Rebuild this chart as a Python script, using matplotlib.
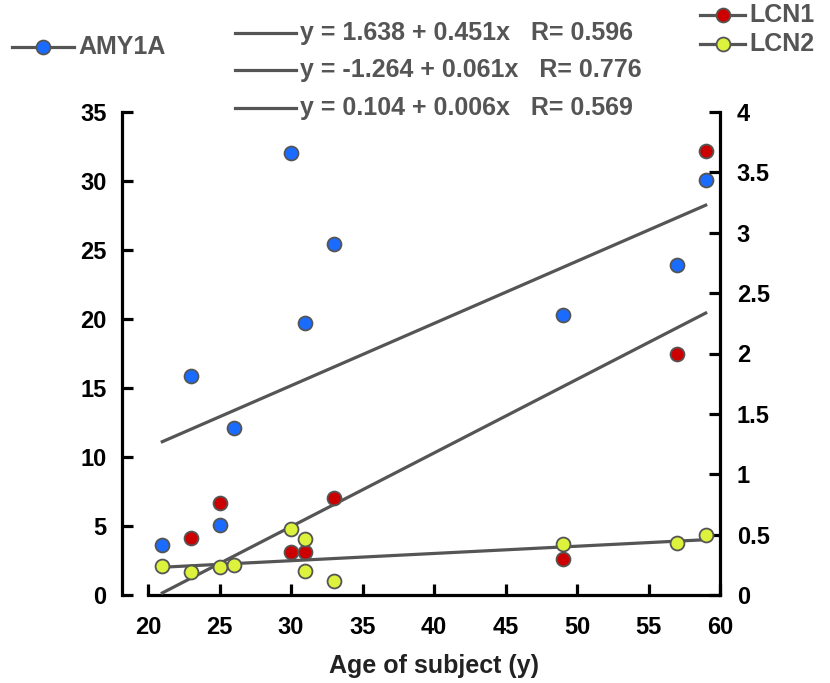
import numpy as np
import matplotlib
matplotlib.use("Agg")
import matplotlib.pyplot as plt
from matplotlib.lines import Line2D

plt.rcParams['font.family'] = ['Liberation Sans', 'DejaVu Sans']

# AMY1A (left axis)
amy_age = [21, 23, 25, 26, 30, 31, 33, 49, 57, 59]
amy_val = [3.6, 15.9, 5.1, 12.1, 32.0, 19.7, 25.4, 20.3, 23.9, 30.1]

# LCN1 / LCN2 (right axis)
lcn1_age = [23, 25, 30, 31, 33, 49, 57, 59]
lcn1_val = [0.47, 0.76, 0.36, 0.36, 0.80, 0.30, 2.0, 3.68]
lcn2_age = [21, 23, 25, 26, 30, 31, 31, 33, 49, 57, 59]
lcn2_val = [0.24, 0.19, 0.23, 0.25, 0.55, 0.46, 0.20, 0.12, 0.42, 0.43, 0.50]

# regression: intercept, slope, R
fits = [(1.638, 0.451, 0.596), (-1.264, 0.061, 0.776), (0.104, 0.006, 0.569)]
fit_range = [21, 59]

grey = '#555555'
blue = '#1a6bff'
red = '#cc0000'
yellow = '#dcf23c'
W, H = 830, 683

fig = plt.figure(figsize=(8.3, 6.83), dpi=100)
ax = fig.add_axes([148/W, 88/H, 572/W, 483/H])
ax2 = ax.twinx()

xr = np.array(fit_range, dtype=float)
for i, (b0, b1, r) in enumerate(fits):
    target = ax if i == 0 else ax2
    target.plot(xr, b0 + b1 * xr, color=grey, lw=2.3, zorder=2)

mk = dict(marker='o', ms=10, mec=grey, mew=1.3, ls='none', zorder=3)
ax.plot(amy_age, amy_val, mfc=blue, **mk)
ax2.plot(lcn1_age, lcn1_val, mfc=red, **mk)
ax2.plot(lcn2_age, lcn2_val, mfc=yellow, **mk)

ax.set_xlim(20, 60)
ax.set_ylim(0, 35)
ax2.set_ylim(0, 4)
ax.set_xticks(range(20, 61, 5))
ax.set_yticks(range(0, 36, 5))
ax2.set_yticks(np.arange(0, 4.01, 0.5))
ax2.set_yticklabels(['0', '0.5', '1', '1.5', '2', '2.5', '3', '3.5', '4'])

for a in (ax, ax2):
    for s in a.spines.values():
        s.set_linewidth(2.3)
    a.spines['top'].set_visible(False)
ax.spines['right'].set_visible(False)
ax2.spines['left'].set_visible(False)
ax2.spines['bottom'].set_visible(False)
ax.spines['left'].set_position(('outward', 19))

ax.tick_params(axis='x', direction='in', length=8, width=2.3, labelsize=17,
               labelcolor='black', pad=15)
ax.tick_params(axis='y', direction='in', length=8, width=2.3, labelsize=17,
               labelcolor='black', pad=11)
ax2.tick_params(axis='y', direction='in', length=8, width=2.3, labelsize=17, pad=12)
for lab in ax.get_xticklabels() + ax.get_yticklabels() + ax2.get_yticklabels():
    lab.set_fontweight('bold')
ax.set_xlabel('Age of subject (y)', fontsize=18, color='#222222', labelpad=11,
              fontweight='bold')


def fig_key(x0, x1, y, text, color=None, size=18):
    yf = 1 - y / H
    fig.add_artist(Line2D([x0 / W, x1 / W], [yf, yf], color=grey, lw=2.3))
    if color:
        fig.add_artist(Line2D([(x0 + x1) / 2 / W], [yf], marker='o', ms=10,
                              mfc=color, mec=grey, mew=1.3))
    fig.text((x1 + 4) / W, yf, text, fontsize=size, color=grey,
             va='center', ha='left', fontweight='bold')


fig_key(12, 74, 47, 'AMY1A', blue)
for (b0, b1, r), y in zip(fits, [33, 70, 108]):
    fig_key(235, 296, y, f'y = {b0:.3f} + {b1:.3f}x   R= {r:.3f}')
fig_key(700, 745, 15, 'LCN1', red)
fig_key(700, 745, 44, 'LCN2', yellow)

fig.savefig('out.png', dpi=100)
